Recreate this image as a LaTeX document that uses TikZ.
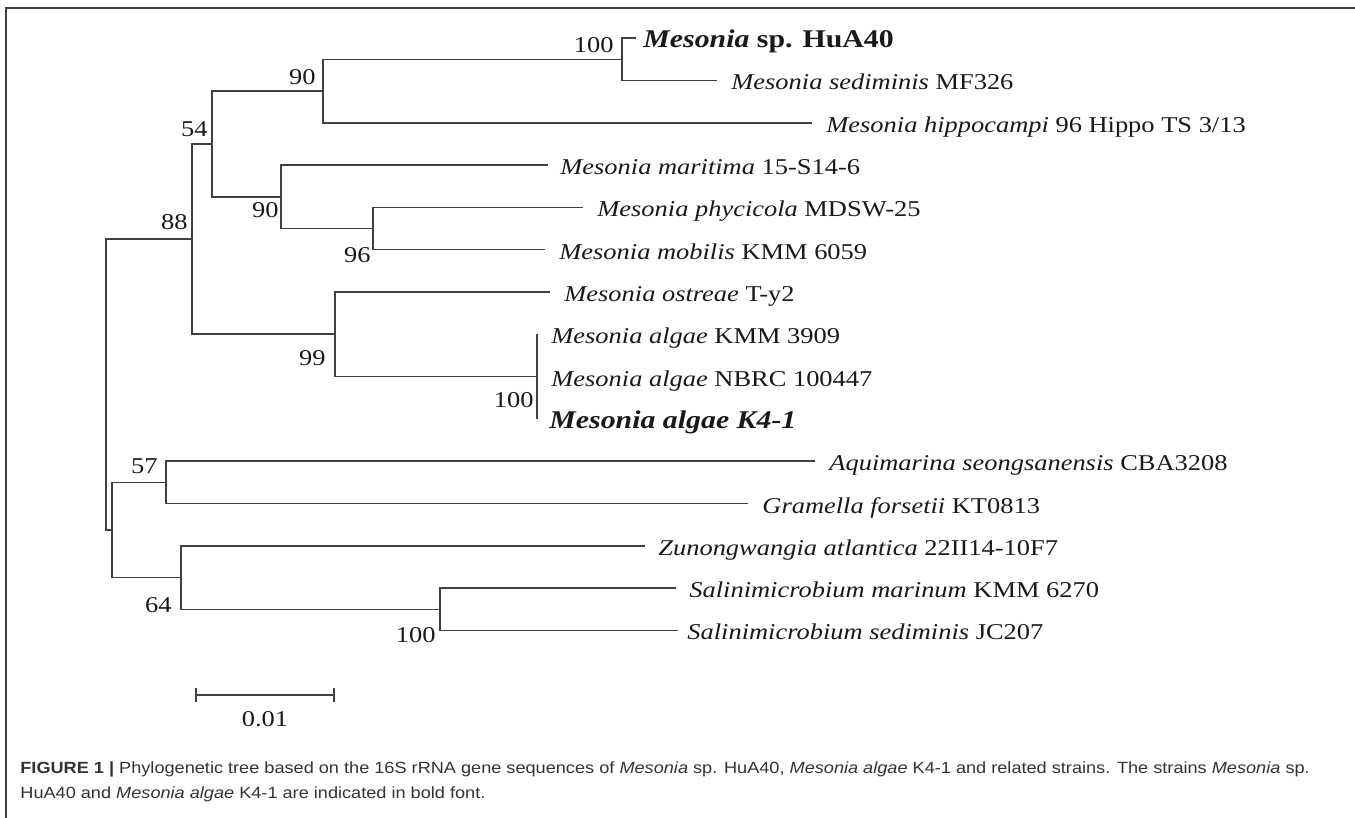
\documentclass[tikz,border=0pt]{standalone}
\usepackage{fontspec}
\setmainfont{Liberation Serif}[FakeStretch=1.17]
\newfontfamily\capfont{Liberation Sans}[FakeStretch=1.12]
\usepackage{tikz}

\begin{document}
\begin{tikzpicture}[x=0.5pt,y=-0.5pt,
		branch/.style={draw=black!75,line width=0.8pt},
		leaf/.style={anchor=base west,inner sep=0pt,text=black!90,font=\fontsize{11.3}{13}\selectfont},
		strain/.style={leaf,font=\fontsize{12.75}{15}\selectfont\bfseries},
		boot/.style={anchor=base east,inner sep=0pt,text=black!90,font=\fontsize{11.3}{13}\selectfont},
		caption/.style={anchor=base west,inner sep=0pt,text=black!80,font=\capfont\fontsize{8.1}{10}\selectfont}]
		\useasboundingbox (0,0) rectangle (1355,818);
		% frame of the figure
		\coordinate (fa) at (6,818);
		\coordinate (fb) at (6,8);
		\coordinate (fc) at (1355,8);
		\draw[black!75,line width=1pt] (fa) -- (fb) -- (fc);

		% inner nodes, x = distance, y = mid of the children
		\coordinate (root) at (106,384.6);
		\coordinate (n88) at (192,239.2);
		\coordinate (n54) at (212,144.0);
		\coordinate (n90a) at (323,91.1);
		\coordinate (n100a) at (622,59.4);
		\coordinate (n90b) at (281,196.9);
		\coordinate (n96) at (373,228.6);
		\coordinate (n99) at (335,334.3);
		\coordinate (nlow) at (112,530.0);
		\coordinate (n57) at (166,482.4);
		\coordinate (n64) at (181,577.5);
		\coordinate (n100b) at (440,609.3);

		% tips
		\coordinate (thua) at (636,38.2);
		\coordinate (tsed) at (717,80.5);
		\coordinate (thip) at (812,122.8);
		\coordinate (tmar) at (548,165.1);
		\coordinate (tphy) at (583,207.4);
		\coordinate (tmob) at (545,249.7);
		\coordinate (tost) at (550,292.0);
		\coordinate (tkmm) at (537,334.3);
		\coordinate (tnbrc) at (537,376.6);
		\coordinate (tkfour) at (537,418.9);
		\coordinate (taqu) at (815,461.2);
		\coordinate (tgra) at (748,503.5);
		\coordinate (tzun) at (645,545.8);
		\coordinate (tsmar) at (676,588.1);
		\coordinate (tssed) at (678,630.4);

		\draw[branch] (root) |- (n88);
		\draw[branch] (root) |- (nlow);
		\draw[branch] (n88) |- (n54);
		\draw[branch] (n88) |- (n99);
		\draw[branch] (n54) |- (n90a);
		\draw[branch] (n54) |- (n90b);
		\draw[branch] (n90a) |- (n100a);
		\draw[branch] (n90a) |- (thip);
		\draw[branch] (n100a) |- (thua);
		\draw[branch] (n100a) |- (tsed);
		\draw[branch] (n90b) |- (tmar);
		\draw[branch] (n90b) |- (n96);
		\draw[branch] (n96) |- (tphy);
		\draw[branch] (n96) |- (tmob);
		\draw[branch] (n99) |- (tost);
		\draw[branch] (n99) |- (tnbrc);
		\draw[branch] (tkmm) -- (tkfour);
		\draw[branch] (nlow) |- (n57);
		\draw[branch] (nlow) |- (n64);
		\draw[branch] (n57) |- (taqu);
		\draw[branch] (n57) |- (tgra);
		\draw[branch] (n64) |- (tzun);
		\draw[branch] (n64) |- (n100b);
		\draw[branch] (n100b) |- (tsmar);
		\draw[branch] (n100b) |- (tssed);

		% taxa
		\node[strain] (lhua) at (643,47.5) {\textit{Mesonia} sp. HuA40};
		\node[leaf] (lsed) at (731,90) {\textit{Mesonia sediminis} MF326};
		\node[leaf] (lhip) at (826,132.3) {\textit{Mesonia hippocampi} 96 Hippo TS 3/13};
		\node[leaf] (lmar) at (560,174.6) {\textit{Mesonia maritima} 15-S14-6};
		\node[leaf] (lphy) at (597,216.9) {\textit{Mesonia phycicola} MDSW-25};
		\node[leaf] (lmob) at (559,259.2) {\textit{Mesonia mobilis} KMM 6059};
		\node[leaf] (lost) at (564,301.5) {\textit{Mesonia ostreae} T-y2};
		\node[leaf] (lkmm) at (551,343.8) {\textit{Mesonia algae} KMM 3909};
		\node[leaf] (lnbrc) at (551,386.1) {\textit{Mesonia algae} NBRC 100447};
		\node[strain] (lkfour) at (549,428) {\textit{Mesonia algae K4-1}};
		\node[leaf] (laqu) at (829,470.7) {\textit{Aquimarina seongsanensis} CBA3208};
		\node[leaf] (lgra) at (762,513) {\textit{Gramella forsetii} KT0813};
		\node[leaf] (lzun) at (658,555.3) {\textit{Zunongwangia atlantica} 22II14-10F7};
		\node[leaf] (lsmar) at (689,597.6) {\textit{Salinimicrobium marinum} KMM 6270};
		\node[leaf] (lssed) at (687,639.9) {\textit{Salinimicrobium sediminis} JC207};

		% bootstrap values
		\node[boot] (b100a) at (614,53) {100};
		\node[boot] (b90a) at (316,85) {90};
		\node[boot] (b54) at (208,137) {54};
		\node[boot] (b88) at (188,230) {88};
		\node[boot] (b90b) at (279,218) {90};
		\node[boot] (b96) at (371,263) {96};
		\node[boot] (b99) at (326,365) {99};
		\node[boot] (b100c) at (534,408) {100};
		\node[boot] (b57) at (158,473) {57};
		\node[boot] (b64) at (172,612) {64};
		\node[boot] (b100b) at (436,642) {100};

		% scale bar
		\coordinate (sbl) at (196,695);
		\coordinate (sbr) at (334,695);
		\draw[branch] (sbl) -- (sbr);
		\draw[branch] ([yshift=3.5pt]sbl) -- ([yshift=-3.5pt]sbl);
		\draw[branch] ([yshift=3.5pt]sbr) -- ([yshift=-3.5pt]sbr);
		\node[boot,anchor=base] (sblab) at (265,726) {0.01};

		\node[caption] (cap1) at (20,773) {\textbf{FIGURE 1 |} Phylogenetic tree based on the 16S rRNA gene sequences of \textit{Mesonia} sp. HuA40, \textit{Mesonia algae} K4-1 and related strains. The strains \textit{Mesonia} sp.};
		\node[caption] (cap2) at (20,798) {HuA40 and \textit{Mesonia algae} K4-1 are indicated in bold font.};
	\end{tikzpicture}
\end{document}
